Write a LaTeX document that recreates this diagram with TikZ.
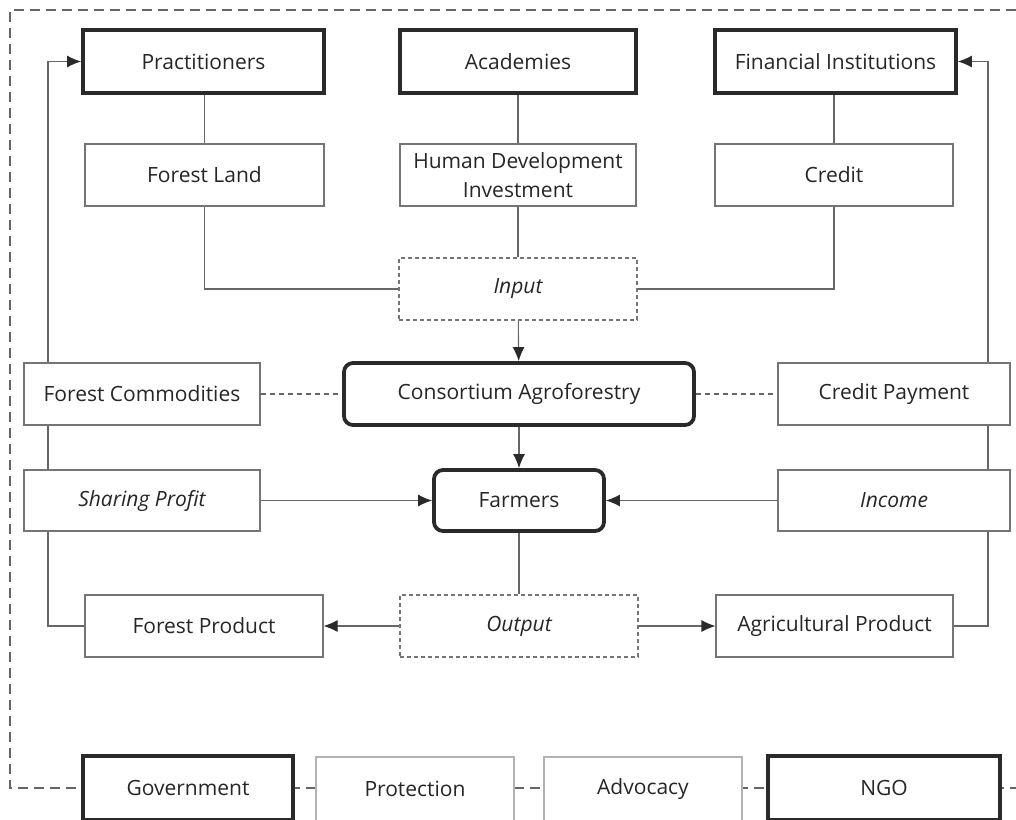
\documentclass[tikz,border=0pt]{standalone}
\usepackage{fontspec}
\setmainfont{Open Sans}
\usetikzlibrary{arrows.meta,backgrounds}
\definecolor{txt}{HTML}{262626}
\definecolor{ln}{HTML}{666666}
\definecolor{thick}{HTML}{2A2A2A}
\tikzset{
  box/.style={draw=ln!90, line width=1.1pt, fill=white, text=txt, inner sep=0pt,
    font=\fontsize{21}{29}\selectfont, align=center},
  bold/.style={box, draw=thick, line width=3.8pt},
  rbold/.style={bold, rounded corners=9pt},
  dbox/.style={box, dash pattern=on 4pt off 3pt, font=\fontsize{21}{29}\selectfont\itshape},
  ibox/.style={box, font=\fontsize{21}{29}\selectfont\itshape},
  lbox/.style={box, draw=ln!50},
  conn/.style={draw=ln, line width=1.1pt},
  arr/.style={conn, -{Latex[length=14pt,width=12pt,color=thick]}},
  dconn/.style={conn, dash pattern=on 5pt off 4pt},
  outer/.style={draw=ln, line width=1.1pt, dash pattern=on 10pt off 6pt}
}
\begin{document}
\begin{tikzpicture}[x=1pt,y=-1pt]
\useasboundingbox (0,0) rectangle (1016,819);
% top row
\node[bold, minimum width=241, minimum height=63] (prac) at (203.5,61.5) {Practitioners};
\node[bold, minimum width=236, minimum height=63] (acad) at (518,61.5) {Academies};
\node[bold, minimum width=241, minimum height=63] (fin) at (835.5,61.5) {Financial Institutions};
% second row
\node[box, minimum width=239, minimum height=62] (fland) at (204.5,175) {Forest Land};
\node[box, minimum width=236, minimum height=62] (hdi) at (518,175) {Human Development\\Investment};
\node[box, minimum width=238, minimum height=62] (credit) at (834,175) {Credit};
% input
\node[dbox, minimum width=238, minimum height=62] (input) at (518,289) {Input};
% middle
\node[rbold, minimum width=350, minimum height=62] (cons) at (519,394) {Consortium Agroforestry};
\node[box, minimum width=236, minimum height=62] (fcom) at (142,394) {Forest Commodities};
\node[box, minimum width=232, minimum height=62] (cpay) at (894,394) {Credit Payment};
\node[rbold, minimum width=170, minimum height=61] (farm) at (519,500.5) {Farmers};
\node[ibox, minimum width=236, minimum height=61] (share) at (142,500.5) {Sharing Profit};
\node[ibox, minimum width=232, minimum height=61] (income) at (894,500.5) {Income};
% output row
\node[box, minimum width=238, minimum height=62] (fprod) at (204,626) {Forest Product};
\node[dbox, minimum width=238, minimum height=62] (output) at (519,626) {Output};
\node[box, minimum width=237, minimum height=62] (agri) at (834.5,626) {Agricultural Product};
% bottom row
\node[bold, minimum width=210, minimum height=64] (gov) at (188,788) {Government};
\node[lbox, minimum width=198, minimum height=64] (prot) at (415,789) {Protection};
\node[lbox, minimum width=198, minimum height=64] (adv) at (643,789) {Advocacy};
\node[bold, minimum width=232, minimum height=64] (ngo) at (884,788) {NGO};
\coordinate (lx) at (48,0);
\coordinate (rx) at (988,0);
\coordinate (otl) at (10,10);
\coordinate (otr) at (1016,10);
\coordinate (obl) at (10,788);
\coordinate (obr) at (1016,788);
\begin{scope}[on background layer]
\draw[outer] (otr) -- (otl) -- (obl) -- (obr);
\draw[conn] (prac.south -| fland) -- (fland);
\draw[conn] (acad) -- (hdi);
\draw[conn] (fin.south -| credit) -- (credit);
\draw[conn] (fland.south) |- (input.west);
\draw[conn] (hdi) -- (input);
\draw[conn] (credit.south) |- (input.east);
\draw[arr] (input) -- (cons);
\draw[arr] (cons) -- (farm);
\draw[dconn] (fcom) -- (cons);
\draw[dconn] (cons) -- (cpay);
\draw[arr] (share) -- (farm);
\draw[arr] (income) -- (farm);
\draw[conn] (farm) -- (output);
\draw[arr] (output) -- (fprod);
\draw[arr] (output) -- (agri);
\draw[arr] (fprod.west) -- (fprod.west -| lx) |- (prac.west);
\draw[arr] (agri.east) -- (agri.east -| rx) |- (fin.east);
\end{scope}
\end{tikzpicture}
\end{document}
